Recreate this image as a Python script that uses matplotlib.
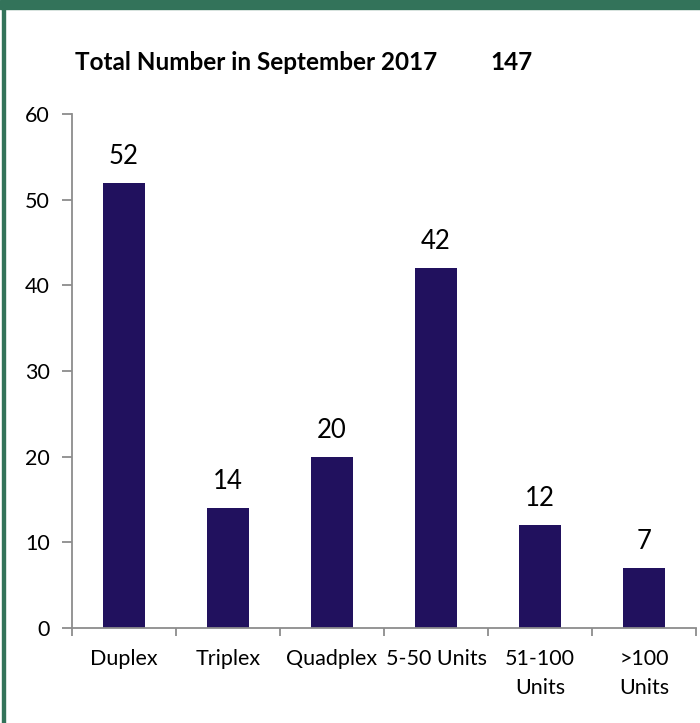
import matplotlib.pyplot as plt
from matplotlib.patches import Rectangle

categories = ["Duplex", "Triplex", "Quadplex", "5-50 Units", "51-100\nUnits", ">100\nUnits"]
counts = [52, 14, 20, 42, 12, 7]
total = 147

plt.rcParams['font.family'] = ['Lato', 'DejaVu Sans']

fig = plt.figure(figsize=(7, 7.23), dpi=100)
ax = fig.add_axes([72 / 700, 1 - 628 / 723, 624 / 700, 514 / 723])

x = list(range(len(categories)))
bars = ax.bar(x, counts, width=0.4, color="#21115e")
for b, v in zip(bars, counts):
    ax.text(b.get_x() + b.get_width() / 2, v + 1.6, str(v), ha="center", va="bottom", fontsize=18.5)

ax.set_xlim(-0.5, len(categories) - 0.5)
ax.set_ylim(0, 60)
ax.set_yticks(range(0, 61, 10))
ax.set_xticks(x)
ax.set_xticklabels(categories, fontsize=15.5, linespacing=1.6)
ax.set_xticks([i - 0.5 for i in range(len(categories) + 1)], minor=True)
ax.tick_params(axis="x", which="major", length=0, pad=15)
ax.tick_params(axis="x", which="minor", length=6, color="#8c8c8c", width=1.3)
ax.tick_params(axis="y", labelsize=15.5, length=7, color="#8c8c8c", width=1.3, pad=9)
for s in ["top", "right"]:
    ax.spines[s].set_visible(False)
for s in ["left", "bottom"]:
    ax.spines[s].set_color("#8c8c8c")
    ax.spines[s].set_linewidth(1.3)

fig.text(75 / 700, 1 - 62 / 723, "Total Number in September 2017", fontsize=17.5,
         fontweight="bold", va="center")
fig.text(490 / 700, 1 - 62 / 723, str(total), fontsize=17.5, fontweight="bold", va="center")

# green frame
green = "#33735a"
fig.patches.append(Rectangle((0, 1 - 9 / 723), 1, 9 / 723, transform=fig.transFigure,
                             color=green, zorder=5))
fig.patches.append(Rectangle((2 / 700, 0), 3 / 700, 1, transform=fig.transFigure,
                             color=green, zorder=5))

fig.savefig("out.png", dpi=100)
